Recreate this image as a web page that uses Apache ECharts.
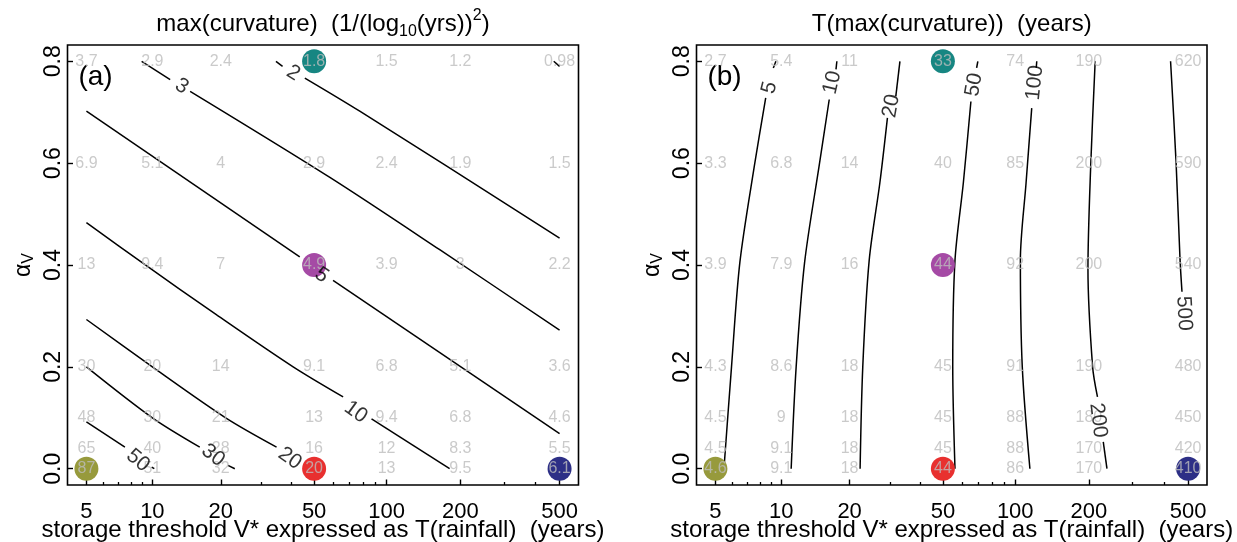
<!DOCTYPE html>
<html>
<head>
<meta charset="utf-8">
<script src="https://cdn.jsdelivr.net/npm/echarts@6/dist/echarts.min.js"></script>
<style>
  html, body { margin: 0; padding: 0; background: #fff; }
  #chart { width: 1237px; height: 542px; }
</style>
</head>
<body>
<div id="chart"></div>
<script>
const FONT = '"Liberation Sans", Arial, Helvetica, sans-serif';

// Grid columns: storage threshold V* expressed as T(rainfall), years
const periods = [5, 10, 20, 50, 100, 200, 500];
// Grid rows: alpha_V
const alphas = [0, 0.04, 0.1, 0.2, 0.4, 0.6, 0.8];

// (a) max(curvature); one row per alpha, one column per period
const curvRows = [
  [87, 51, 32, 20, 13, 9.5, 6.1],
  [65, 40, 28, 16, 12, 8.3, 5.5],
  [48, 30, 21, 13, 9.4, 6.8, 4.6],
  [30, 20, 14, 9.1, 6.8, 5.1, 3.6],
  [13, 9.4, 7, 4.9, 3.9, 3, 2.2],
  [6.9, 5.1, 4, 2.9, 2.4, 1.9, 1.5],
  [3.7, 2.9, 2.4, 1.8, 1.5, 1.2, 0.98]
];

// (b) T(max(curvature)) in years
const tmaxRows = [
  [4.6, 9.1, 18, 44, 86, 170, 410],
  [4.5, 9.1, 18, 45, 88, 170, 420],
  [4.5, 9, 18, 45, 88, 180, 450],
  [4.3, 8.6, 18, 45, 91, 190, 480],
  [3.9, 7.9, 16, 44, 92, 200, 540],
  [3.3, 6.8, 14, 40, 85, 200, 590],
  [2.7, 5.4, 11, 33, 74, 190, 620]
];

// Axis ticks
const tickT = [5, 10, 20, 50, 100, 200, 500];
const minorT = [6, 7, 8, 9, 30, 40, 60, 70, 80, 90, 300, 400];
const alphaTicks = [0, 0.2, 0.4, 0.6, 0.8];

// Highlighted cases [T, alpha]
const cases = [[5, 0], [50, 0.8], [50, 0.4], [50, 0], [500, 0]];
const caseColors = ['#979a3c', '#178682', '#a54aa5', '#e8302f', '#2d2f86'];

// Contour traces of (a), as [T, alpha] pieces broken where the level label sits
const curvLevels = ['1', '2', '3', '5', '10', '20', '30', '50'];
const curvTraces = [
  [[[474, 0.8], [500, 0.79]]],
  [[[34.5, 0.8], [36.8, 0.79]], [[45.7, 0.767], [77.5, 0.702], [500, 0.453]]],
  [[[8.95, 0.8], [12.0, 0.764]], [[14.7, 0.741], [58.2, 0.572], [165, 0.43], [500, 0.272]]],
  [[[5, 0.702], [43.5, 0.416]], [[60, 0.37], [500, 0.069]]],
  [[[5, 0.483], [9.1, 0.403], [19.2, 0.302], [40.8, 0.2], [66.1, 0.141]], [[86.7, 0.098], [181, 0]]],
  [[[5, 0.293], [10, 0.2], [21, 0.1], [34.7, 0.0425]], [[45.7, 0.003], [48, 0]]],
  [[[5, 0.2], [10, 0.1], [16.2, 0.0425]], [[21.5, 0.0065], [23, 0]]],
  [[[5, 0.092], [7.52, 0.0425]], [[9.93, 0.003], [10.2, 0]]]
];
// Level labels of (a): [T, alpha, text]
const curvLabels = [
  [40.8, 0.777, '2'], [13.5, 0.751, '3'], [53.7, 0.38, '5'], [74.6, 0.111, '10'],
  [39.5, 0.02, '20'], [18.5, 0.026, '30'], [8.61, 0.016, '50']
];
const curvLabelAngles = [-31, -31, -34, -36, -35, -38, -40];

// Contour traces of (b)
const tmaxLevels = ['5', '10', '20', '50', '100', '200', '500'];
const tmaxTraces = [
  [[[9.46, 0.8], [9.21, 0.787]], [[8.51, 0.728], [7.55, 0.593], [6.49, 0.405], [5.94, 0.2], [5.48, 0]]],
  [[[17.6, 0.8], [17.45, 0.784]], [[16.3, 0.725], [14.7, 0.593], [12.7, 0.405], [11.65, 0.2], [11.07, 0]]],
  [[[32.9, 0.8], [31.6, 0.731]], [[29.1, 0.689], [27.0, 0.561], [24.3, 0.409], [22.8, 0.2], [22.2, 0]]],
  [[[70.0, 0.8], [69.2, 0.787]], [[65.5, 0.721], [60.9, 0.561], [56.2, 0.409], [55.0, 0.2], [56.2, 0]]],
  [[[122.6, 0.8], [122, 0.787]], [[116.9, 0.708], [110.8, 0.561], [105, 0.41], [106.9, 0.2], [114.9, 0]]],
  [[[212, 0.8], [203.3, 0.593], [198.2, 0.393], [207, 0.2], [216.6, 0.141]], [[228.6, 0.0525], [236.6, 0]]],
  [[[425.8, 0.8], [448, 0.6], [464.5, 0.41], [472.8, 0.3475]]]
];
const tmaxLabels = [
  [8.85, 0.748, '5'], [16.8, 0.758, '10'], [30.2, 0.712, '20'], [67.5, 0.754, '50'],
  [120.4, 0.758, '100'], [218, 0.095, '200'], [481, 0.305, '500']
];
const tmaxLabelAngles = [76, 77, 80, 80, 84, -83, -87];

// Horizontal axis coordinate for a return period
const axisPos = T => Math.pow(Math.log10(T), 1.12);
const uLo = axisPos(5), uHi = axisPos(500);
const uPad = 0.04 * (uHi - uLo);
const uMin = uLo - uPad, uMax = uHi + uPad;
const yMin = -0.032, yMax = 0.832;

function tickText(v) {
  let best = tickT[0], d = Infinity;
  tickT.forEach(t => { const e = Math.abs(axisPos(t) - v); if (e < d) { d = e; best = t; } });
  return String(best);
}

function xAxes(gi) {
  return [
    {
      gridIndex: gi, type: 'value', min: uMin, max: uMax, position: 'bottom',
      axisLine: { show: false, onZero: false },
      splitLine: { show: false },
      axisTick: { show: true, inside: true, length: 5.5, customValues: tickT.map(axisPos),
                  lineStyle: { color: '#000', width: 1.4 } },
      axisLabel: { show: true, customValues: tickT.map(axisPos), formatter: tickText,
                   fontSize: 22, color: '#000', fontFamily: FONT, margin: 16 },
      name: 'storage threshold V* expressed as T(rainfall)  (years)',
      nameLocation: 'middle', nameGap: 33, nameMoveOverlap: false,
      nameTextStyle: { fontSize: 24, color: '#000', fontFamily: FONT, verticalAlign: 'top' }
    },
    {
      gridIndex: gi, type: 'value', min: uMin, max: uMax, position: 'bottom',
      axisLine: { show: false, onZero: false },
      splitLine: { show: false },
      axisTick: { show: true, inside: true, length: 3, customValues: minorT.map(axisPos),
                  lineStyle: { color: '#000', width: 1.3 } },
      axisLabel: { show: false }
    }
  ];
}

function yAxis(gi) {
  return {
    gridIndex: gi, type: 'value', min: yMin, max: yMax,
    axisLine: { show: false, onZero: false },
    splitLine: { show: false },
    axisTick: { show: true, inside: true, length: 5.5, customValues: alphaTicks,
                lineStyle: { color: '#000', width: 1.4 } },
    axisLabel: { show: true, customValues: alphaTicks, rotate: 90,
                 formatter: v => v.toFixed(1),
                 fontSize: 23, color: '#000', fontFamily: FONT, margin: 2 },
    name: '{a|α}{v|V}', nameLocation: 'middle', nameGap: 31, nameRotate: 90,
    nameMoveOverlap: false,
    nameTextStyle: {
      color: '#000',
      rich: {
        a: { fontSize: 23, lineHeight: 26, fontFamily: FONT, color: '#000' },
        v: { fontSize: 16, lineHeight: 14, verticalAlign: 'bottom', fontFamily: FONT, color: '#000' }
      }
    }
  };
}

function panelSeries(rows, traces, labels, angles, xi, yi) {
  const out = [];
  traces.forEach(parts => parts.forEach(part => {
    out.push({
      type: 'line', xAxisIndex: xi, yAxisIndex: yi,
      data: part.map(([t, a]) => [axisPos(t), a]),
      smooth: 0.3,
      symbol: 'none', showSymbol: false, silent: true, animation: false,
      lineStyle: { color: '#000', width: 1.5 }, z: 2
    });
  }));
  out.push({
    type: 'scatter', xAxisIndex: xi, yAxisIndex: yi, silent: true, animation: false,
    symbol: 'circle', symbolSize: 24, z: 3,
    data: cases.map(([t, a], i) => ({ value: [axisPos(t), a], itemStyle: { color: caseColors[i], opacity: 1 } }))
  });
  const cells = [];
  rows.forEach((row, r) => row.forEach((v, c) => {
    cells.push({ value: [axisPos(periods[c]), alphas[r]], name: String(v) });
  }));
  out.push({
    type: 'scatter', xAxisIndex: xi, yAxisIndex: yi, silent: true, animation: false,
    symbolSize: 1, itemStyle: { color: 'rgba(0,0,0,0)' }, z: 4,
    label: { show: true, position: 'inside', formatter: p => p.name,
             color: '#bdbdbd', fontSize: 16, fontFamily: FONT },
    data: cells
  });
  out.push({
    type: 'scatter', xAxisIndex: xi, yAxisIndex: yi, silent: true, animation: false,
    symbolSize: 1, itemStyle: { color: 'rgba(0,0,0,0)' }, z: 5,
    label: { show: true, position: 'inside', formatter: p => p.name,
             color: '#000', fontSize: 21, fontFamily: FONT },
    data: labels.map(([t, a, txt], i) => ({ value: [axisPos(t), a], name: txt, label: { rotate: angles[i] } }))
  });
  return out;
}

const gridA = { left: 67.5, top: 45, width: 511, height: 440 };
const gridB = { left: 696.5, top: 45, width: 510.5, height: 440 };
const gridLook = {
  show: true, borderColor: '#000', borderWidth: 1.6, backgroundColor: 'transparent',
  containLabel: false, outerBoundsMode: 'none'
};

const chart = echarts.init(document.getElementById('chart'), null, { renderer: 'canvas' });
chart.setOption({
  animation: false,
  backgroundColor: '#fff',
  grid: [
    Object.assign({}, gridLook, gridA),
    Object.assign({}, gridLook, gridB)
  ],
  xAxis: [...xAxes(0), ...xAxes(1)],
  yAxis: [yAxis(0), yAxis(1)],
  graphic: [
    {
      type: 'text', x: gridA.left + gridA.width / 2, y: 24,
      style: {
        text: '{t|max(curvature)  (1/(log}{s|10}{t|(yrs))}{p|2}{t|)}',
        align: 'center', verticalAlign: 'middle',
        rich: {
          t: { fontSize: 24, lineHeight: 32, fontFamily: FONT, fill: '#000' },
          s: { fontSize: 16, lineHeight: 20, verticalAlign: 'bottom', fontFamily: FONT, fill: '#000' },
          p: { fontSize: 16, lineHeight: 17, verticalAlign: 'top', fontFamily: FONT, fill: '#000' }
        }
      }
    },
    {
      type: 'text', x: gridB.left + gridB.width / 2, y: 24,
      style: { text: 'T(max(curvature))  (years)', align: 'center', verticalAlign: 'middle',
               fontSize: 24, fontFamily: FONT, fill: '#000' }
    },
    {
      type: 'text', x: gridA.left + 28, y: 77,
      style: { text: '(a)', align: 'center', verticalAlign: 'middle', fontSize: 28, fontFamily: FONT, fill: '#000' }
    },
    {
      type: 'text', x: gridB.left + 28, y: 77,
      style: { text: '(b)', align: 'center', verticalAlign: 'middle', fontSize: 28, fontFamily: FONT, fill: '#000' }
    }
  ],
  series: [
    ...panelSeries(curvRows, curvTraces, curvLabels, curvLabelAngles, 0, 0),
    ...panelSeries(tmaxRows, tmaxTraces, tmaxLabels, tmaxLabelAngles, 2, 1)
  ]
});
</script>
</body>
</html>
